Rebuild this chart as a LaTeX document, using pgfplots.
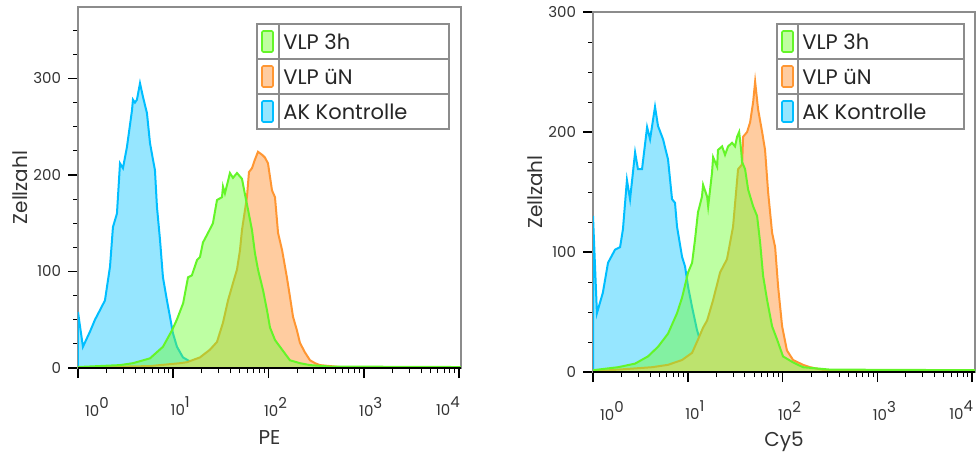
\documentclass[border=0pt]{standalone}
\usepackage{pgfplots}
\pgfplotsset{compat=1.18}
\usepackage{fontspec}
\setmainfont{Poppins}

\definecolor{bline}{RGB}{0,190,255}
\definecolor{bfill}{RGB}{150,230,255}
\definecolor{oline}{RGB}{255,150,50}
\definecolor{ofill}{RGB}{255,204,160}
\definecolor{gline}{RGB}{100,245,40}
\definecolor{gfill}{RGB}{110,255,50}
\definecolor{gswatch}{RGB}{192,255,160}

\pgfkeys{/pgf/number format/assume math mode=true}

\pgfplotsset{
  every axis y label/.style={at={(axis description cs:0,0.5)}, xshift=-29pt, rotate=90, anchor=center, font=\fontsize{10}{12}\selectfont, text=black!80},
  every axis x label/.style={at={(axis description cs:0.5,0)}, yshift=-35pt, anchor=center, font=\fontsize{10}{12}\selectfont, text=black!80},
}

\newcommand{\flowlegend}[3]{%
\begin{scope}[shift={(#1,119.5pt)}]
  \draw[black!45, line width=0.7pt] (0,0) rectangle (#2,52.5pt);
  \draw[black!45, line width=0.7pt] (0,17.5pt) -- (#2,17.5pt) (0,35pt) -- (#2,35pt) (#3,0) -- (#3,52.5pt);
  \draw[gline, fill=gswatch, line width=0.8pt, rounded corners=0.6pt] (2.5pt,38.5pt) rectangle (8pt,49pt);
  \draw[oline, fill=ofill, line width=0.8pt, rounded corners=0.6pt] (2.5pt,21pt) rectangle (8pt,31.5pt);
  \draw[bline, fill=bfill, line width=0.8pt, rounded corners=0.6pt] (2.5pt,3.5pt) rectangle (8pt,14pt);
  \begin{scope}[every node/.style={anchor=west, inner sep=0pt, font=\fontsize{10.5}{12}\selectfont, text=black!85}]
  \node at (#3+2pt,43.75pt) {VLP 3h};
  \node at (#3+2pt,26.25pt) {VLP üN};
  \node at (#3+2pt,8.75pt) {AK Kontrolle};
  \end{scope}
\end{scope}}

\begin{document}
\begin{tikzpicture}
\path[use as bounding box] (-39pt,-44pt) rectangle (449pt,184pt);

% ---------------- left panel (PE) ----------------
\begin{axis}[xmode=log, scale only axis, at={(0pt,0pt)}, anchor=south west,
  width=191.5pt, height=180.5pt, xmin=1, xmax=10500, ymin=0, ymax=374,
  axis line style={black!45, line width=0.6pt},
  tick align=outside, xtick pos=bottom, ytick pos=left,
  major tick length=5pt, minor tick length=2.5pt,
  major tick style={black, line width=0.8pt},
  minor tick style={black, line width=0.5pt},
  xtick={1,10,100,1000,10000},
  minor xtick={2,3,4,5,6,7,8,9,20,30,40,50,60,70,80,90,200,300,400,500,600,700,800,900,2000,3000,4000,5000,6000,7000,8000,9000},
  xticklabels={{\hspace*{12pt}10\raisebox{4pt}{0}},{10\raisebox{4pt}{1}},{10\raisebox{4pt}{2}},{10\raisebox{4pt}{3}},{10\raisebox{4pt}{4}\hspace*{18pt}}},
  xticklabel style={xshift=3.5pt, yshift=-6pt},
  ytick={0,100,200,300}, minor ytick={25,50,75,125,150,175,225,250,275,325,350},
  ticklabel style={font=\fontsize{7.5}{9}\selectfont, text=black!80},
  ylabel={Zellzahl}, xlabel={PE}]
\addplot[draw=bline, line width=1pt, fill=bfill] coordinates {
(1,58) (1.127,22) (1.34,38) (1.507,50) (1.702,60) (1.919,70) (2.168,105) (2.328,146) (2.564,160) (2.761,212) (2.965,207) (3.266,229) (3.690,267) (3.776,278) (3.963,275) (4.159,278) (4.477,295) (4.808,281) (5.297,264) (5.702,233) (6.124,216) (6.427,205) (6.745,167) (7.261,133) (7.798,94) (8.590,70) (9.247,53) (9.93,36) (10.94,22) (12.65,11) (16.1,5) (22.6,3) (39.4,1) (81.3,0.5) (214,0) (10500,0)
} \closedcycle;
\addplot[draw=oline, line width=1pt, fill=ofill] coordinates {
(1,0.5) (5.70,2) (11.8,5) (13.9,6) (19.1,11) (24.3,19) (28.8,27) (33.3,47) (37.6,70) (42.4,88) (46.7,102) (50.2,122) (52.7,143) (59.4,177) (62.4,203) (67.1,207) (72.1,216) (77.6,224) (85.5,221) (91.9,218) (98.8,212) (108.9,184) (117,177) (126,140) (139,122) (156,94) (168,74) (181,53) (199,39) (214,26) (242,16) (273,8) (308,5) (347,3) (563,1) (10500,0.5)
} \closedcycle;
\addplot[draw=gline, line width=1pt, fill=gfill, fill opacity=0.45] coordinates {
(1,1) (2.76,3) (3.78,5) (5.70,10) (7.80,22) (9.70,39) (10.9,50) (12.7,67) (14.3,94) (15.7,96) (17.8,112) (19.1,115) (20.5,130) (23.2,140) (26.1,150) (28.8,174) (32.5,177) (33.3,188) (34.9,181) (39.4,202) (42.4,197) (46.7,202) (52.7,196) (56.6,180) (61.0,164) (67.1,143) (72.1,119) (77.6,102) (87.5,81) (96.4,60) (103.7,42) (117,29) (139,19) (168,8) (214,5) (273,3) (442,1.5) (10500,1)
} \closedcycle;
\draw[black, line width=0.9pt] (rel axis cs:0,0) -- (rel axis cs:1,0);
\end{axis}

% ---------------- right panel (Cy5) ----------------
\begin{axis}[xmode=log, scale only axis, at={(257.5pt,-2pt)}, anchor=south west,
  width=191pt, height=180pt, xmin=1, xmax=10700, ymin=0, ymax=300,
  axis line style={black!45, line width=0.6pt},
  tick align=outside, xtick pos=bottom, ytick pos=left,
  major tick length=5pt, minor tick length=2.5pt,
  major tick style={black, line width=0.8pt},
  minor tick style={black, line width=0.5pt},
  xtick={1,10,100,1000,10000},
  minor xtick={2,3,4,5,6,7,8,9,20,30,40,50,60,70,80,90,200,300,400,500,600,700,800,900,2000,3000,4000,5000,6000,7000,8000,9000},
  xticklabels={{\hspace*{12pt}10\raisebox{4pt}{0}},{10\raisebox{4pt}{1}},{10\raisebox{4pt}{2}},{10\raisebox{4pt}{3}},{10\raisebox{4pt}{4}\hspace*{18pt}}},
  xticklabel style={xshift=3.5pt, yshift=-6pt},
  ytick={0,100,200,300}, minor ytick={25,50,75,125,150,175,225,250,275},
  ticklabel style={font=\fontsize{7.5}{9}\selectfont, text=black!80},
  ylabel={Zellzahl}, xlabel={Cy5}]
\addplot[draw=bline, line width=1pt, fill=bfill] coordinates {
(1,130) (1.10,49) (1.27,66) (1.44,91) (1.71,102) (1.93,104) (2.07,119) (2.28,160) (2.46,144) (2.78,183) (2.98,169) (3.29,169) (3.72,204) (4.00,194) (4.51,221) (4.85,205) (5.48,194) (6.19,177) (6.82,144) (7.33,141) (7.70,121) (8.70,96) (9.35,88) (10.07,71) (11.1,54) (12.5,35) (14.5,18) (18.5,7) (25.9,3) (57.9,1) (10700,0.5)
} \closedcycle;
\addplot[draw=oline, line width=1pt, fill=ofill] coordinates {
(1,0.5) (1.84,2) (4.20,4) (6.19,6) (8.70,10) (11.1,16) (12.8,27) (14.5,37) (16.0,43) (18.5,60) (21.9,83) (25.9,94) (30.0,121) (33.9,169) (37.4,173) (38.3,196) (42.2,200) (45.4,208) (48.9,225) (51.3,242) (55.1,219) (60.8,200) (65.3,185) (70.3,150) (77.5,116) (83.4,104) (89.7,71) (98.8,38) (111,18) (129,10) (164,6) (195,4) (295,1) (10700,0.5)
} \closedcycle;
\addplot[draw=gline, line width=1pt, fill=gfill, fill opacity=0.45] coordinates {
(1,1.5) (1.84,4) (2.78,7) (3.80,13) (4.85,21) (6.19,32) (7.70,49) (8.70,62) (10.07,83) (11.1,91) (11.9,110) (12.8,133) (14.1,146) (14.5,156) (16.0,146) (16.4,138) (18.0,166) (18.5,179) (20.4,171) (20.8,185) (23.0,188) (24.7,181) (26.6,188) (29.3,191) (31.5,188) (33.1,196) (34.8,200) (36.5,185) (37.4,175) (40.2,169) (43.3,152) (48.9,138) (53.8,130) (57.9,108) (62.3,80) (68.6,60) (77.5,38) (87.5,27) (101,13) (129,8) (164,4) (317,2) (10700,1.5)
} \closedcycle;
\draw[black, line width=0.9pt] (rel axis cs:0,0) -- (rel axis cs:1,0);
\end{axis}

\flowlegend{89.5pt}{96pt}{11pt}
\flowlegend{349.5pt}{93.5pt}{10.5pt}
\end{tikzpicture}
\end{document}
